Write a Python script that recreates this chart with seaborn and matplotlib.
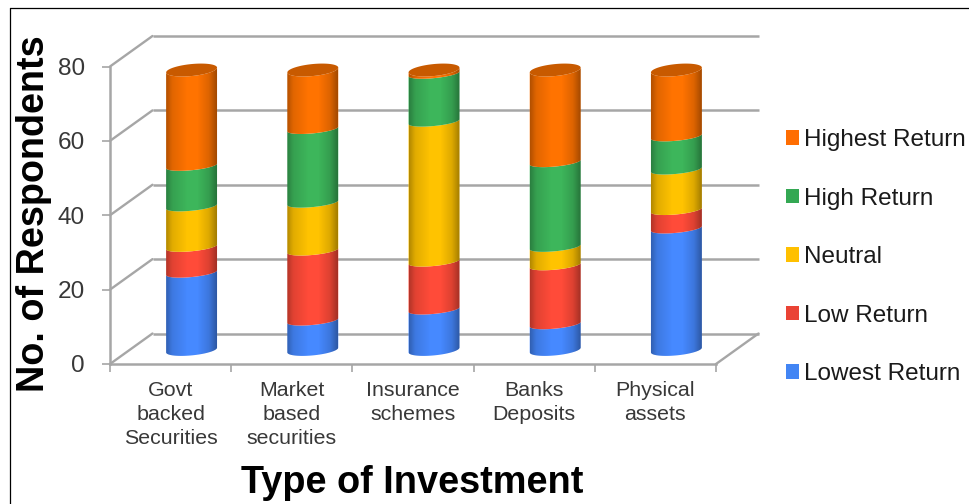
import numpy as np
import matplotlib
matplotlib.use("Agg")
import matplotlib.pyplot as plt
from matplotlib.lines import Line2D
from matplotlib.patches import Patch, PathPatch, Polygon
from matplotlib.path import Path
import seaborn as sns

# Survey counts per investment type, stacked from lowest to highest return
categories = ["Govt\nbacked\nSecurities", "Market\nbased\nsecurities", "Insurance\nschemes",
              "Banks\nDeposits", "Physical\nassets"]
lowest_return = [21, 8, 11, 7, 33]
low_return = [7, 19, 13, 16, 5]
neutral = [11, 13, 38, 5, 11]
high_return = [11, 20, 13, 23, 9]
highest_return = [26, 16, 1, 25, 18]

series_names = ["Lowest Return", "Low Return", "Neutral", "High Return", "Highest Return"]
series_values = [lowest_return, low_return, neutral, high_return, highest_return]
bar_colors = ["#4689FF", "#FF4B39", "#FFC300", "#3DB65B", "#FF7300"]
key_colors = ["#4285F4", "#EA4335", "#FFC000", "#34A853", "#FF6D01"]
cap_color = "#C85A00"
frame_color = "#A6A6A6"
y_ticks = [0, 20, 40, 60, 80]

W, H = 969, 504
sns.set_theme(style="white", rc={"axes.facecolor": "none", "figure.facecolor": "white"})
plt.rcParams["font.family"] = ["Liberation Sans", "DejaVu Sans"]

fig = plt.figure(figsize=(W / 100, H / 100), dpi=100)


def px_axes(left, right, top, bottom):
    return fig.add_axes([left / W, 1 - bottom / H, (right - left) / W, (bottom - top) / H])


# Front plane of the pseudo-3D frame
ax = px_axes(110, 716, 66.5, 364)
ax.set_xlim(-0.5, 4.5)
ax.set_ylim(0, 80)
unit_x = 606 / 5
unit_y = 297.5 / 80
depth_x, depth_y = 42.5 / unit_x, 30.5 / unit_y

for v in y_ticks:
    ax.plot([-0.5 + depth_x, 4.5 + depth_x], [v + depth_y] * 2, color=frame_color, lw=1.8, clip_on=False,
            solid_capstyle="butt")
    ax.plot([-0.5, -0.5 + depth_x], [v, v + depth_y], color=frame_color, lw=1.7, clip_on=False)
ax.plot([4.5, 4.5 + depth_x], [0, depth_y], color=frame_color, lw=1.7, clip_on=False)

for side in ["top", "right"]:
    ax.spines[side].set_visible(False)
for side in ["left", "bottom"]:
    ax.spines[side].set_color(frame_color)
    ax.spines[side].set_linewidth(1.8)

ax.set_yticks(y_ticks)
ax.set_xticks(range(5))
ax.set_xticklabels(categories, linespacing=1.36)
ax.set_xticks(np.arange(-0.5, 5), minor=True)
ax.tick_params(axis="y", length=6, width=1.2, color=frame_color, pad=12, labelsize=17.6,
               labelcolor="#383838", left=True)
ax.tick_params(axis="x", which="major", length=0, pad=12, labelsize=15.4, labelcolor="#383838")
ax.tick_params(axis="x", which="minor", length=6, width=1.2, color=frame_color, bottom=True)

# Cylinders sit halfway into the depth of the frame
bar_ax = px_axes(110 + 21, 716 + 21, 55.3, 350)
bar_ax.set_facecolor("none")
bar_unit_y = 294.7 / 80

tilt, bulge, cap_bulge = 2.4, 4.4, 6.0
shade = np.interp(np.linspace(0, 1, 64), [0, 0.12, 0.42, 0.62, 0.85, 1], [0.30, 0.12, 0, 0, 0.14, 0.36])
shade_img = np.zeros((1, 64, 4))
shade_img[..., 3] = shade

t_front = np.linspace(np.pi, 0, 40)


def front_edge(cx, half, level, b):
    xs = cx + half * np.cos(t_front)
    ys = level + (tilt * np.cos(t_front) - b * np.sin(t_front)) / bar_unit_y
    return np.column_stack([xs, ys])


bottoms = np.zeros(5)
tops = np.array(series_values).sum(axis=0)
for i, (name, vals) in enumerate(zip(series_names, series_values)):
    n_before = len(bar_ax.patches)
    sns.barplot(x=categories, y=vals, bottom=bottoms, color=bar_colors[i], saturation=1, width=0.42,
                errorbar=None, ax=bar_ax, zorder=2)
    for bar in bar_ax.patches[n_before:]:
        bar.set_visible(False)
        x0, w = bar.get_x(), bar.get_width()
        y0, y1 = bar.get_y(), bar.get_y() + bar.get_height()
        cx, half = x0 + w / 2, w / 2
        low = front_edge(cx, half, y0, 5.4 if y0 == 0 else bulge)
        high = front_edge(cx, half, y1, cap_bulge if np.isclose(y1, tops.max()) else bulge)
        verts = np.vstack([low, high[::-1], low[:1]])
        body = bar_ax.add_patch(PathPatch(Path(verts), fc=bar_colors[i], ec="none", zorder=2 + 0.01 * i,
                                          clip_on=False))
        im = bar_ax.imshow(shade_img, extent=[x0, x0 + w, y0 - 5, y1 + 5], aspect="auto",
                           interpolation="bilinear", zorder=2.005 + 0.01 * i)
        im.set_clip_box(fig.bbox)
        im.set_clip_path(body)
    bottoms = bottoms + np.array(vals)

# Elliptical top face of each cylinder
t_full = np.linspace(0, 2 * np.pi, 80)
half_w = 0.21
for pos, top in enumerate(tops):
    xs = pos + half_w * np.cos(t_full)
    ys = top + (tilt * np.cos(t_full) + cap_bulge * np.sin(t_full)) / bar_unit_y
    bar_ax.add_patch(Polygon(np.column_stack([xs, ys]), closed=True, fc=cap_color, ec="none", zorder=3,
                             clip_on=False))

bar_ax.set_xlim(-0.5, 4.5)
bar_ax.set_ylim(0, 80)
bar_ax.axis("off")

# Axis titles
fig.text(34 / W, 1 - 214 / H, "No. of Respondents", rotation=90, ha="center", va="center",
         fontsize=27.2, fontweight="bold", color="black")
fig.text(412.5 / W, 1 - 483 / H, "Type of Investment", ha="center", va="center",
         fontsize=27.3, fontweight="bold", color="black")

# Legend, highest return on top
handles = [Patch(fc=c, ec="none", label=n) for c, n in zip(key_colors, series_names)][::-1]
leg = fig.legend(handles=handles, loc="center left", bbox_to_anchor=(785.5 / W, 1 - 257.2 / H),
                 borderaxespad=0, borderpad=0, frameon=False, fontsize=17.5, handlelength=0.54,
                 handleheight=0.54, handletextpad=0.22, labelspacing=1.5, labelcolor="#1A1A1A")

# Thin black outline at the top and left of the canvas
fig.add_artist(Line2D([9.5 / W, 9.5 / W], [0, 1 - 7.5 / H], color="black", lw=0.9))
fig.add_artist(Line2D([9.5 / W, 1], [1 - 7.5 / H, 1 - 7.5 / H], color="black", lw=0.9))

fig.savefig("out.png", dpi=100)
